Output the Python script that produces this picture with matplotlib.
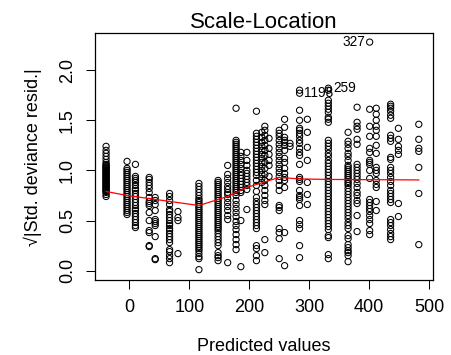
import matplotlib
matplotlib.use('Agg')
import numpy as np
from matplotlib import pyplot as plt

# fitted values (one per column of points) and sqrt|std. deviance resid.| in each column
fitted = [-39, -4, 10, 33, 43, 67, 81, 116, 148, 164, 178, 186, 196, 212, 221, 226, 233,
          250, 259, 268, 284, 297, 332, 365, 380, 401, 412, 436, 449, 483]
resid = [
    [1.24, 1.20, 1.17, 1.14, 1.11, 1.08, 1.06, 1.05, 1.04, 1.03, 1.02, 1.01, 1.00, 0.99, 0.98, 0.97,
     0.96, 0.95, 0.94, 0.93, 0.92, 0.91, 0.90, 0.89, 0.88, 0.87, 0.86, 0.85, 0.84, 0.83, 0.82, 0.81,
     0.80, 0.79, 0.78, 0.76, 0.74],
    [1.09, 1.02, 1.00, 0.98, 0.96, 0.94, 0.92, 0.90, 0.88, 0.86, 0.84, 0.82, 0.80, 0.78, 0.76, 0.74,
     0.72, 0.70, 0.68, 0.66, 0.64, 0.62, 0.60, 0.58, 0.56],
    [1.06, 0.94, 0.92, 0.90, 0.88, 0.85, 0.82, 0.80, 0.77, 0.74, 0.71, 0.68, 0.65, 0.62, 0.60, 0.57,
     0.54, 0.51, 0.48, 0.45, 0.43],
    [0.93, 0.91, 0.88, 0.85, 0.82, 0.78, 0.73, 0.69, 0.67, 0.65, 0.58, 0.50, 0.40, 0.38, 0.25, 0.24],
    [0.73, 0.70, 0.66, 0.60, 0.51, 0.49, 0.47, 0.45, 0.34, 0.12, 0.11],
    [0.77, 0.74, 0.70, 0.66, 0.61, 0.59, 0.56, 0.53, 0.50, 0.47, 0.45, 0.42, 0.40, 0.37, 0.34, 0.31,
     0.28, 0.21, 0.19, 0.15, 0.12, 0.08],
    [0.59, 0.53, 0.50, 0.17],
    [0.87, 0.84, 0.81, 0.78, 0.75, 0.72, 0.70, 0.68, 0.66, 0.64, 0.62, 0.60, 0.58, 0.56, 0.54, 0.52,
     0.50, 0.48, 0.46, 0.44, 0.42, 0.40, 0.38, 0.36, 0.34, 0.32, 0.30, 0.28, 0.26, 0.24, 0.22, 0.20,
     0.17, 0.14, 0.12, 0.01],
    [0.90, 0.88, 0.86, 0.84, 0.82, 0.80, 0.78, 0.76, 0.74, 0.72, 0.70, 0.68, 0.66, 0.64, 0.62, 0.60,
     0.58, 0.56, 0.54, 0.52, 0.50, 0.48, 0.46, 0.44, 0.42, 0.40, 0.37, 0.34, 0.31, 0.28, 0.25, 0.18,
     0.15, 0.13, 0.10],
    [1.05, 0.96, 0.92, 0.88, 0.84, 0.81, 0.78, 0.76, 0.72, 0.68, 0.64, 0.60, 0.55, 0.51, 0.08],
    [1.62, 1.30, 1.28, 1.26, 1.24, 1.22, 1.20, 1.18, 1.16, 1.14, 1.12, 1.10, 1.08, 1.06, 1.04, 1.02,
     1.00, 0.98, 0.96, 0.94, 0.92, 0.90, 0.88, 0.86, 0.84, 0.82, 0.80, 0.78, 0.75, 0.70, 0.66, 0.62,
     0.58, 0.54, 0.49, 0.45, 0.41, 0.36, 0.31, 0.26, 0.21],
    [1.18, 1.14, 1.10, 1.06, 1.02, 0.98, 0.95, 0.92, 0.89, 0.86, 0.83, 0.80, 0.78, 0.50, 0.04],
    [1.18, 1.10, 1.05, 1.00, 0.97, 0.94, 0.91, 0.88, 0.85, 0.81, 0.61],
    [1.59, 1.37, 1.34, 1.31, 1.28, 1.25, 1.22, 1.19, 1.16, 1.13, 1.10, 1.07, 1.04, 1.01, 0.98, 0.95,
     0.90, 0.85, 0.79, 0.73, 0.69, 0.66, 0.63, 0.60, 0.57, 0.54, 0.51, 0.48, 0.45, 0.42, 0.25, 0.22,
     0.15, 0.10],
    [1.38, 1.33, 1.28, 1.24, 1.20, 1.16, 1.12, 1.08, 1.04, 1.00, 0.96, 0.92, 0.88],
    [1.44, 1.40, 1.35, 1.30, 1.25, 1.20, 1.15, 1.08, 1.02, 0.96, 0.90, 0.85, 0.80, 0.75, 0.70, 0.66,
     0.31, 0.18],
    [1.32, 1.22, 1.16, 1.10, 1.05, 0.94],
    [1.40, 1.37, 1.34, 1.30, 1.26, 1.22, 1.18, 1.14, 1.10, 1.06, 1.02, 0.98, 0.94, 0.90, 0.85, 0.80,
     0.65, 0.63, 0.60, 0.42, 0.38, 0.32, 0.12],
    [1.51, 1.43, 1.33, 1.30, 1.28, 1.25, 1.20, 1.12, 1.08, 1.02, 0.97, 0.93, 0.90, 0.83, 0.38, 0.05],
    [1.27, 1.24],
    [1.80, 1.77, 1.60, 1.50, 1.42, 1.40, 1.37, 1.34, 1.30, 1.27, 1.22, 1.18, 1.15, 1.06, 0.93, 0.91,
     0.89, 0.80, 0.75, 0.73, 0.71, 0.65, 0.50, 0.46, 0.42, 0.25, 0.13],
    [1.51, 1.38, 1.23, 1.10, 0.88, 0.76, 0.66],
    [1.82, 1.80, 1.70, 1.67, 1.64, 1.61, 1.58, 1.53, 1.51, 1.48, 1.30, 1.27, 1.24, 1.21, 1.17, 1.14,
     1.10, 1.07, 1.04, 1.01, 0.98, 0.95, 0.92, 0.89, 0.86, 0.83, 0.80, 0.77, 0.74, 0.71, 0.68, 0.65,
     0.62, 0.59, 0.56, 0.53, 0.50, 0.47, 0.44, 0.41, 0.35, 0.33, 0.16, 0.12],
    [1.38, 1.29, 1.26, 1.22, 1.17, 1.14, 1.10, 1.05, 1.03, 1.01, 0.99, 0.97, 0.95, 0.93, 0.91, 0.89,
     0.87, 0.85, 0.82, 0.79, 0.76, 0.73, 0.70, 0.67, 0.64, 0.61, 0.58, 0.55, 0.52, 0.48, 0.45, 0.42,
     0.35, 0.32, 0.26, 0.23, 0.20, 0.18, 0.15, 0.09],
    [1.63, 1.48, 1.44, 1.41, 1.31, 1.26, 1.06, 1.03, 1.00, 0.97, 0.94, 0.91, 0.87, 0.83, 0.78, 0.75,
     0.70, 0.67, 0.55, 0.39],
    [2.28, 1.61, 1.44, 1.34, 1.22, 1.18, 1.10, 1.08, 1.06, 1.00, 0.92, 0.71, 0.68, 0.65, 0.62, 0.59,
     0.55, 0.51, 0.47, 0.40, 0.36],
    [1.62, 1.56, 1.50, 1.44, 1.40, 1.34, 1.25, 1.17, 1.03, 1.00, 0.97, 0.90, 0.86, 0.83, 0.69, 0.60],
    [1.66, 1.64, 1.62, 1.59, 1.55, 1.52, 1.35, 1.32, 1.29, 1.13, 1.11, 1.03, 1.00, 0.97, 0.93, 0.89,
     0.85, 0.80, 0.77, 0.74, 0.71, 0.68, 0.51, 0.48, 0.45, 0.41, 0.37, 0.34, 0.31],
    [1.42, 1.31, 1.24, 1.20, 1.16, 0.67, 0.54],
    [1.46, 1.31, 1.22, 1.19, 1.03, 0.77, 0.26],
]

# smoother (red line)
smooth_x = [-39, -4, 116, 164, 196, 250, 284, 332, 483]
smooth_y = [0.79, 0.75, 0.65, 0.74, 0.83, 0.93, 0.915, 0.91, 0.905]

# labelled observations
lab_text = ['327', '1198', '259']
lab_x = [401, 284, 332]
lab_y = [2.28, 1.77, 1.82]
lab_ha = ['right', 'left', 'left']

x = np.concatenate([[f] * len(r) for f, r in zip(fitted, resid)])
y = np.concatenate(resid)

plt.rcParams['font.family'] = ['Liberation Sans', 'DejaVu Sans']

fig = plt.figure(figsize=(4.52, 3.55), dpi=100)
ax = fig.add_axes([0.2095, 0.2113, 0.7475, 0.6947])

ax.scatter(x, y, s=20, facecolors='none', edgecolors='black', linewidths=0.75)
ax.plot(smooth_x, smooth_y, color='red', lw=0.9)

for t, px, py, ha in zip(lab_text, lab_x, lab_y, lab_ha):
    dx = -3.5 if ha == 'right' else 3.5
    ax.annotate(t, (px, py), xytext=(dx, 0), textcoords='offset points',
                ha=ha, va='center', fontsize=9.8)

ax.set_xlim(-58, 506)
ax.set_ylim(-0.093, 2.367)
ax.set_xticks([0, 100, 200, 300, 400, 500])
ax.set_yticks([0.0, 0.5, 1.0, 1.5, 2.0])
ax.set_yticklabels(['0.0', '0.5', '1.0', '1.5', '2.0'], rotation=90, va='center')
ax.tick_params(direction='out', length=6.5, width=0.75, labelsize=13, pad=7)
for s in ax.spines.values():
    s.set_linewidth(0.9)

ax.set_title('Scale-Location', fontsize=16, pad=2)
ax.set_xlabel('Predicted values', fontsize=13, labelpad=16)
ax.set_ylabel('√|Std. deviance resid.|', fontsize=13, labelpad=12)

fig.savefig('out.png', dpi=100)
